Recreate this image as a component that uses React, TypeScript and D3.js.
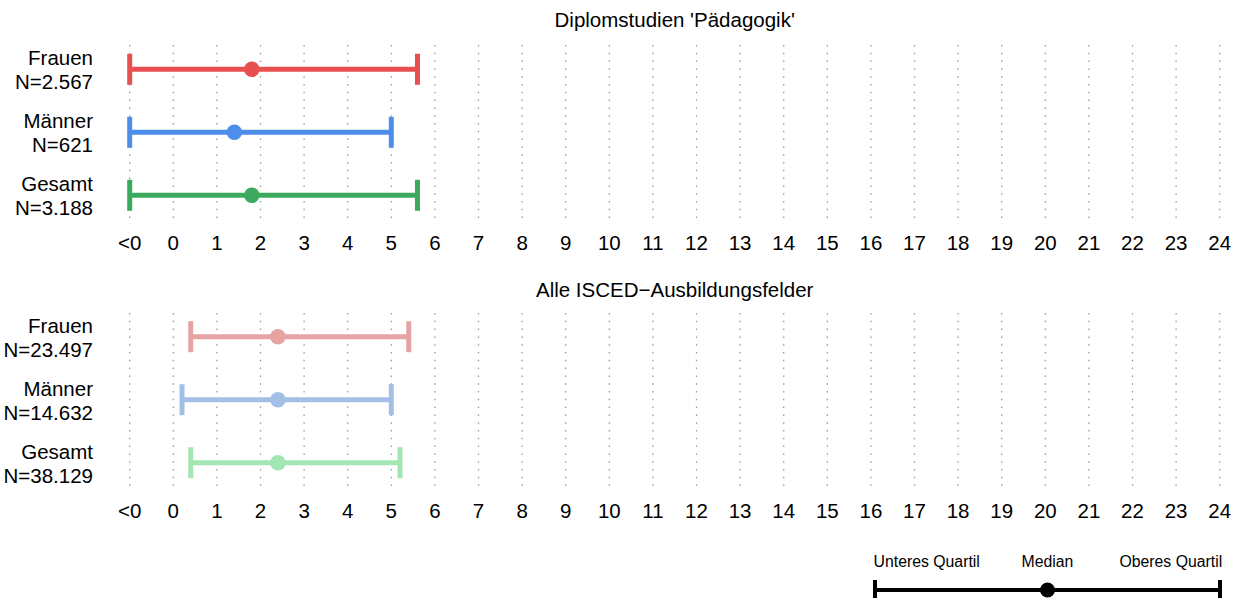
import React from "react";
import * as d3 from "d3";

const tickLabels = ["<0", "0", "1", "2", "3", "4", "5", "6", "7", "8", "9", "10", "11", "12", "13", "14", "15", "16", "17", "18", "19", "20", "21", "22", "23", "24"];
const tickValues = tickLabels.map((_, i) => i - 1);
const groups = ["Frauen", "Männer", "Gesamt"];

const panel1Title = "Diplomstudien 'Pädagogik'";
const panel1N = ["2.567", "621", "3.188"];
const panel1Lower = [-1, -1, -1];
const panel1Median = [1.8, 1.4, 1.8];
const panel1Upper = [5.6, 5.0, 5.6];
const panel1Colors = ["#E8504F", "#4D8EEB", "#3BAA5E"];

const panel2Title = "Alle ISCED\u2212Ausbildungsfelder";
const panel2N = ["23.497", "14.632", "38.129"];
const panel2Lower = [0.4, 0.2, 0.4];
const panel2Median = [2.4, 2.4, 2.4];
const panel2Upper = [5.4, 5.0, 5.2];
const panel2Colors = ["#E5A3A3", "#A3BFE6", "#A3E6B3"];

const legendLabels = ["Unteres Quartil", "Median", "Oberes Quartil"];

const W = 1244;
const H = 598;
const FONT = "'Liberation Sans', Arial, Helvetica, sans-serif";
const FS = 20.5;

const x = d3.scaleLinear().domain([-1, 24]).range([129.7, 1219.7]);

type PanelProps = {
  title: string;
  n: string[];
  lower: number[];
  median: number[];
  upper: number[];
  colors: string[];
  top: number;
  gridTop: number;
  gridBottom: number;
  titleY: number;
  axisY: number;
};

function Panel(p: PanelProps) {
  const y = d3.scalePoint<string>().domain(groups).range([p.top, p.top + 126]);
  return (
    <g>
      <text x={(x(-1) + x(24)) / 2} y={p.titleY} textAnchor="middle" fontSize={FS} fontFamily={FONT}>
        {p.title}
      </text>
      {tickValues.map((v) => (
        <line
          key={"g" + v}
          x1={x(v)}
          x2={x(v)}
          y1={p.gridTop}
          y2={p.gridBottom}
          stroke="#999"
          strokeWidth={1.3}
          strokeDasharray="1.5,6.3"
        />
      ))}
      {tickValues.map((v, i) => (
        <text key={"t" + v} x={x(v)} y={p.axisY} textAnchor="middle" fontSize={FS} fontFamily={FONT}>
          {tickLabels[i]}
        </text>
      ))}
      {groups.map((g, i) => {
        const yy = y(g) as number;
        return (
          <g key={g}>
            <text x={93} y={yy - 4} textAnchor="end" fontSize={FS} fontFamily={FONT}>
              {g}
            </text>
            <text x={93} y={yy + 20} textAnchor="end" fontSize={FS} fontFamily={FONT}>
              {"N=" + p.n[i]}
            </text>
            <line x1={x(p.lower[i])} x2={x(p.upper[i])} y1={yy} y2={yy} stroke={p.colors[i]} strokeWidth={5} />
            <line x1={x(p.lower[i])} x2={x(p.lower[i])} y1={yy - 15.5} y2={yy + 15.5} stroke={p.colors[i]} strokeWidth={5} />
            <line x1={x(p.upper[i])} x2={x(p.upper[i])} y1={yy - 15.5} y2={yy + 15.5} stroke={p.colors[i]} strokeWidth={5} />
            <circle cx={x(p.median[i])} cy={yy} r={7.8} fill={p.colors[i]} />
          </g>
        );
      })}
    </g>
  );
}

function Legend() {
  const lx = d3.scaleLinear().domain([0, 1]).range([875, 1220]);
  const ly = 590;
  const labelX = [926.7, 1047.5, 1170.8];
  return (
    <g>
      {legendLabels.map((l, i) => (
        <text key={l} x={labelX[i]} y={566.5} textAnchor="middle" fontSize={15.8} fontFamily={FONT}>
          {l}
        </text>
      ))}
      <line x1={lx(0)} x2={lx(1)} y1={ly} y2={ly} stroke="#000" strokeWidth={4} />
      <line x1={lx(0)} x2={lx(0)} y1={ly - 10} y2={ly + 12} stroke="#000" strokeWidth={4} />
      <line x1={lx(1)} x2={lx(1)} y1={ly - 10} y2={ly + 12} stroke="#000" strokeWidth={4} />
      <circle cx={lx(0.5)} cy={ly} r={7.5} fill="#000" />
    </g>
  );
}

export default function App() {
  return (
    <svg
      width={W}
      height={H}
      viewBox={`0 0 ${W} ${H}`}
      style={{ position: "absolute", left: 0, top: 0, background: "#fff", display: "block" }}
    >
      <rect width={W} height={H} fill="#fff" />
      <Panel
        title={panel1Title}
        n={panel1N}
        lower={panel1Lower}
        median={panel1Median}
        upper={panel1Upper}
        colors={panel1Colors}
        top={69.3}
        gridTop={45}
        gridBottom={219}
        titleY={27}
        axisY={249.5}
      />
      <Panel
        title={panel2Title}
        n={panel2N}
        lower={panel2Lower}
        median={panel2Median}
        upper={panel2Upper}
        colors={panel2Colors}
        top={336.7}
        gridTop={313}
        gridBottom={487}
        titleY={297}
        axisY={518}
      />
      <Legend />
    </svg>
  );
}
